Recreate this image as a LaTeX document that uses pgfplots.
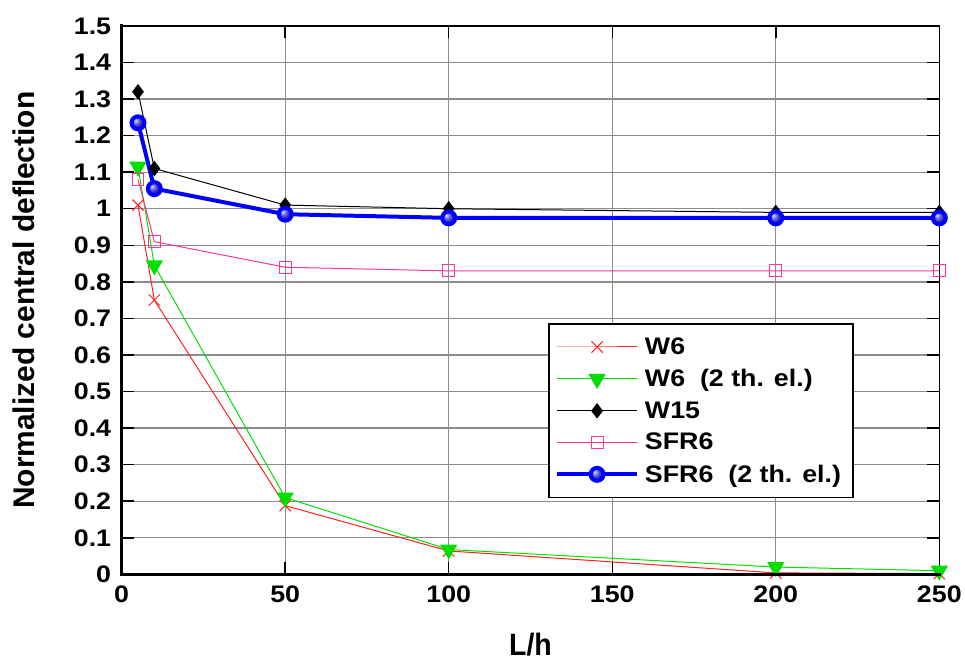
\documentclass[border=0pt]{standalone}
\usepackage{fontspec}
\setmainfont{Liberation Sans}
\newfontfamily\tickfont[FakeStretch=1.12]{Liberation Sans}
\newfontfamily\legfont[FakeStretch=1.12]{Liberation Sans}
\newfontfamily\xlabfont[FakeStretch=0.92]{Liberation Sans}
\usepackage{pgfplots}
\pgfplotsset{compat=1.18}
\definecolor{wred}{HTML}{FF2020}
\definecolor{wgreen}{HTML}{00E000}
\definecolor{spink}{HTML}{FF3399}
\definecolor{sblue}{HTML}{0000FF}
\begin{document}
\begin{tikzpicture}
\begin{axis}[
  scale only axis,
  width=820pt, height=550pt,
  xmin=0, xmax=250, ymin=0, ymax=1.5,
  xtick={0,50,100,150,200,250},
  ytick={0,0.1,0.2,0.3,0.4,0.5,0.6,0.7,0.8,0.9,1,1.1,1.2,1.3,1.4,1.5},
  yticklabels={0,0.1,0.2,0.3,0.4,0.5,0.6,0.7,0.8,0.9,1,1.1,1.2,1.3,1.4,1.5},
  /pgf/number format/assume math mode=true,
  tick align=inside,
  major tick length=12pt,
  tick style={black, line width=1.5pt},
  grid=major,
  major grid style={color=black!45, line width=1.3pt},
  axis line style={black, line width=1.5pt},
  ticklabel style={font=\tickfont\bfseries\fontsize{24}{26}\selectfont},
  yticklabel style={xshift=-7pt},
  xticklabel style={yshift=-8pt},
  xlabel={L/h},
  ylabel={Normalized central deflection},
  xlabel style={font=\xlabfont\bfseries\fontsize{31}{34}\selectfont, at={(axis description cs:0.5,0)}, anchor=north, yshift=-55pt},
  ylabel style={font=\bfseries\fontsize{30}{33}\selectfont, at={(axis description cs:-0.1195,0.5)}, anchor=center},
  legend cell align=left,
  legend style={at={(rel axis cs:0.522,0.458)}, anchor=north west, draw=black, line width=1.5pt,
    font=\legfont\bfseries\fontsize{24}{26}\selectfont, row sep=9.5pt, inner xsep=6pt, inner ysep=12pt,
    nodes={inner xsep=6pt}},
  legend image code/.code={\draw[mark repeat=2,mark phase=2] plot coordinates {(3pt,0pt) (43pt,0pt) (83pt,0pt)};},
]
\addplot[wred, draw=wred, line width=1pt, mark=x, mark size=8pt, mark options={line width=1pt, draw=wred}] coordinates {
 (5,1.01) (10,0.75) (50,0.188) (100,0.064) (200,0.004) (250,0.002)};
\addlegendentry{W6}
\addplot[wgreen, draw=wgreen, line width=1pt, mark=triangle*, mark size=9pt, mark options={rotate=180, fill=wgreen, draw=wgreen}] coordinates {
 (5,1.115) (10,0.845) (50,0.21) (100,0.068) (200,0.02) (250,0.01)};
\addlegendentry{W6\ \ (2 th. el.)}
\addplot[black, draw=black, line width=1pt, mark=diamond*, mark size=7pt, mark options={fill=black}] coordinates {
 (5,1.32) (10,1.11) (50,1.01) (100,1.0) (200,0.99) (250,0.99)};
\addlegendentry{W15}
\addplot[spink, draw=spink, line width=1pt, mark=square, mark size=6pt, mark options={line width=1pt, draw=spink}] coordinates {
 (5,1.08) (10,0.91) (50,0.84) (100,0.83) (200,0.83) (250,0.83)};
\addlegendentry{SFR6}
\addplot[sblue, draw=sblue, line width=4pt, mark=ball, mark size=6.5pt, mark options={ball color=sblue!70!white}] coordinates {
 (5,1.235) (10,1.055) (50,0.985) (100,0.975) (200,0.975) (250,0.975)};
\addlegendentry{SFR6\ \ (2 th. el.)}
\end{axis}
\begin{axis}[
  scale only axis, width=820pt, height=550pt,
  xmin=0, xmax=250, ymin=0, ymax=1.5,
  axis lines=none, ticks=none,
  clip=false,
]
\addplot[draw=none] coordinates {(0,0)};
\draw[black, line width=3pt, line cap=rect] (rel axis cs:0,1) -- (rel axis cs:0,0) -- (rel axis cs:1,0);
\path (rel axis cs:-0.14878,-0.15636) rectangle (rel axis cs:1.02805,1.04727);
\end{axis}
\end{tikzpicture}
\end{document}
